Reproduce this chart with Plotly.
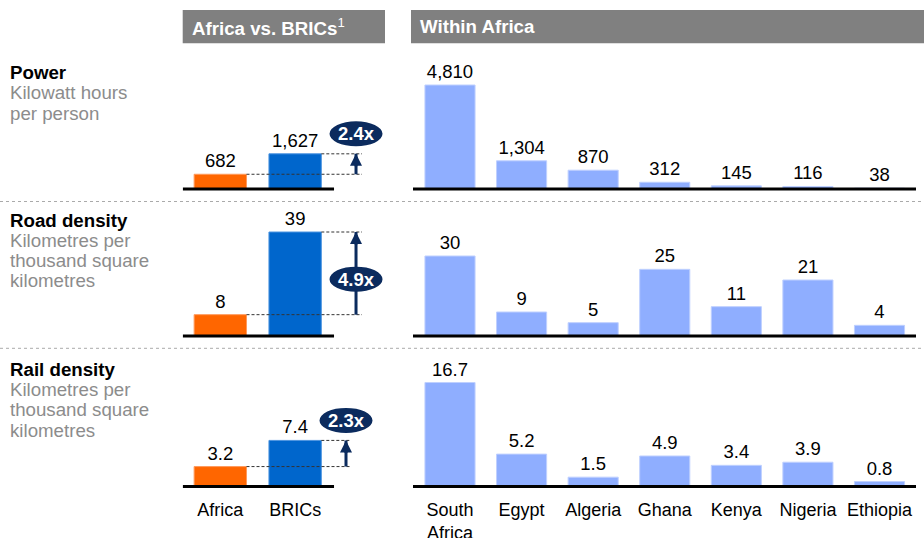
import plotly.graph_objects as go

W, H = 924, 538
FONT = "Liberation Sans, Arial, sans-serif"

# ---------------- data ----------------
metrics = ["Power", "Road density", "Rail density"]
units = [["Kilowatt hours", "per person"],
         ["Kilometres per", "thousand square", "kilometres"],
         ["Kilometres per", "thousand square", "kilometres"]]
compare_cats = ["Africa", "BRICs"]
africa_vals = [682, 8, 3.2]
brics_vals = [1627, 39, 7.4]
multipliers = ["2.4x", "4.9x", "2.3x"]
countries = ["South<br>Africa", "Egypt", "Algeria", "Ghana", "Kenya", "Nigeria", "Ethiopia"]
power_vals = [4810, 1304, 870, 312, 145, 116, 38]
road_vals = [30, 9, 5, 25, 11, 21, 4]
rail_vals = [16.7, 5.2, 1.5, 4.9, 3.4, 3.9, 0.8]
country_rows = [power_vals, road_vals, rail_vals]

# ---------------- style ----------------
ORANGE = "#FF6600"
BLUE = "#0066CC"
LIGHT = "#8FAEFF"
NAVY = "#0B2B5E"
GREY_HDR = "#808080"
GREY_TXT = "#8C8C8C"

baselines = [189, 336, 486.5]     # pixel rows of the baselines
label_first = [72.7, 220.1, 369.4]
LINE_STEP = 20.2
arrow_x = [1.814, 1.814, 1.68]
dash_end = [1.894, 1.894, 1.747]
ellipse_mode = ["above", "middle", "above"]

LEFT_DOM = [182.7 / W, 392 / W]
LEFT_RANGE = [-0.503, 2.295]
RIGHT_DOM = [413 / W, 916 / W]
RIGHT_RANGE = [-0.517, 6.51]


def fmt(v):
    if isinstance(v, float) and not v.is_integer():
        return f"{v:.1f}"
    return f"{int(v):,}"


def py(p):
    return 1 - p / H


fig = go.Figure()
layout = dict(width=W, height=H, margin=dict(l=0, r=0, t=0, b=0, autoexpand=False),
              paper_bgcolor="white", plot_bgcolor="rgba(0,0,0,0)",
              showlegend=False, font=dict(family=FONT, color="black"),
              shapes=[], annotations=[])
shapes = layout["shapes"]
anns = layout["annotations"]

for r in range(3):
    B = baselines[r]
    rmax = max(max(country_rows[r]), brics_vals[r], africa_vals[r])
    u = rmax / 104.0
    ydom = [py(B + 3), py(B - 132)]
    yrng = [-3 * u, 132 * u]
    li, ri = 2 * r + 1, 2 * r + 2
    lx, ly = f"x{li}", f"y{li}"
    rx, ry = f"x{ri}", f"y{ri}"
    last = r == 2

    # left: Africa vs BRICs
    fig.add_trace(go.Bar(
        x=compare_cats, y=[africa_vals[r], brics_vals[r]], width=0.7,
        marker=dict(color=[ORANGE, BLUE], line=dict(color=["#FF9A5C", "#4D94E0"], width=1)),
        text=[fmt(africa_vals[r]), fmt(brics_vals[r])], textposition="outside",
        textfont=dict(size=18.5, color="black", family=FONT), constraintext="none",
        cliponaxis=False, xaxis=lx, yaxis=ly, hoverinfo="skip"))
    # right: within Africa
    fig.add_trace(go.Bar(
        x=countries, y=country_rows[r], width=0.7,
        marker=dict(color=LIGHT, line=dict(color="#BFD0FF", width=1)),
        text=[fmt(v) for v in country_rows[r]], textposition="outside",
        textfont=dict(size=18.5, color="black", family=FONT), constraintext="none",
        cliponaxis=False, xaxis=rx, yaxis=ry, hoverinfo="skip"))

    common_x = dict(type="category", showgrid=False, zeroline=False, showline=False,
                    ticks="", showticklabels=last, fixedrange=True, ticklabelstandoff=7,
                    automargin=False,
                    tickfont=dict(size=18, color="black", family=FONT))
    layout[f"xaxis{li}"] = dict(common_x, domain=LEFT_DOM, range=LEFT_RANGE, anchor=ly)
    layout[f"xaxis{ri}"] = dict(common_x, domain=RIGHT_DOM, range=RIGHT_RANGE, anchor=ry)
    common_y = dict(domain=ydom, range=yrng, showgrid=False, zeroline=False, automargin=False,
                    showline=False, showticklabels=False, ticks="", fixedrange=True)
    layout[f"yaxis{li}"] = dict(common_y, anchor=lx)
    layout[f"yaxis{ri}"] = dict(common_y, anchor=rx)

    # baselines
    shapes.append(dict(type="line", xref=lx, yref=ly, x0=-0.503, x1=1.52, y0=0, y1=0,
                       line=dict(color="black", width=3)))
    shapes.append(dict(type="line", xref=rx, yref=ry, x0=RIGHT_RANGE[0], x1=RIGHT_RANGE[1],
                       y0=0, y1=0, line=dict(color="black", width=3)))
    # dashed reference lines
    shapes.append(dict(type="line", xref=lx, yref=ly, x0=0.35, x1=dash_end[r],
                       y0=africa_vals[r], y1=africa_vals[r],
                       line=dict(color="#333333", width=1, dash="3px,2px")))
    shapes.append(dict(type="line", xref=lx, yref=ly, x0=1.35, x1=dash_end[r],
                       y0=brics_vals[r], y1=brics_vals[r],
                       line=dict(color="#333333", width=1, dash="3px,2px")))
    # arrow shaft
    shapes.append(dict(type="line", xref=lx, yref=ly, x0=arrow_x[r], x1=arrow_x[r],
                       y0=africa_vals[r], y1=brics_vals[r],
                       line=dict(color=NAVY, width=3)))
    # ellipse badge
    if ellipse_mode[r] == "above":
        yanc, c = brics_vals[r], 20
    else:
        yanc, c = africa_vals[r], 35.5
    shapes.append(dict(type="circle", xref=lx, yref=ly, xsizemode="pixel", ysizemode="pixel",
                       xanchor=arrow_x[r], yanchor=yanc, x0=-26.5, x1=26.5,
                       y0=c - 12.5, y1=c + 12.5, fillcolor=NAVY, line=dict(width=0)))
    # arrow head
    anns.append(dict(xref=lx, yref=ly, x=arrow_x[r], y=brics_vals[r], ax=0, ay=14,
                     text="", showarrow=True, arrowhead=2, arrowsize=0.8, arrowwidth=3,
                     arrowcolor=NAVY, standoff=0))
    # badge text
    anns.append(dict(xref=lx, yref=ly, x=arrow_x[r], y=yanc, yshift=c, text=f"<b>{multipliers[r]}</b>",
                     showarrow=False, xanchor="center", yanchor="middle",
                     font=dict(size=18.5, color="white", family=FONT)))
    # row label (one annotation per line for tight spacing)
    lines = [(f"<b>{metrics[r]}</b>", "black")] + [(t, GREY_TXT) for t in units[r]]
    for k, (txt, col) in enumerate(lines):
        anns.append(dict(xref="paper", yref="paper", x=10 / W, y=py(label_first[r] + k * LINE_STEP),
                         xanchor="left", yanchor="middle", align="left", showarrow=False,
                         borderpad=0, borderwidth=0, text=txt,
                         font=dict(size=18.7, color=col, family=FONT)))

# row separators
for yp in [201.5, 348.3]:
    shapes.append(dict(type="line", xref="paper", yref="paper", x0=0, x1=1, y0=py(yp), y1=py(yp),
                       line=dict(color="#AAAAAA", width=1, dash="dot")))

# header bars
shapes.append(dict(type="rect", xref="paper", yref="paper", x0=182.7 / W, x1=385 / W,
                   y0=py(43.3), y1=py(10), fillcolor=GREY_HDR, line=dict(width=0), layer="below"))
shapes.append(dict(type="rect", xref="paper", yref="paper", x0=411 / W, x1=1,
                   y0=py(43.3), y1=py(10), fillcolor=GREY_HDR, line=dict(width=0), layer="below"))
anns.append(dict(xref="paper", yref="paper", x=192.2 / W, y=py(27), xanchor="left", yanchor="middle",
                 showarrow=False, borderpad=0, borderwidth=0,
                 text="<b>Africa vs. BRICs</b><sup>1</sup>",
                 font=dict(size=18.7, color="white", family=FONT)))
anns.append(dict(xref="paper", yref="paper", x=420.2 / W, y=py(27), xanchor="left", yanchor="middle",
                 showarrow=False, borderpad=0, borderwidth=0, text="<b>Within Africa</b>",
                 font=dict(size=18.7, color="white", family=FONT)))

fig.update_layout(**layout)
fig.write_html("out.html", config={"displayModeBar": False},
               post_script="document.body.style.margin='0';document.body.style.overflow='hidden';")
